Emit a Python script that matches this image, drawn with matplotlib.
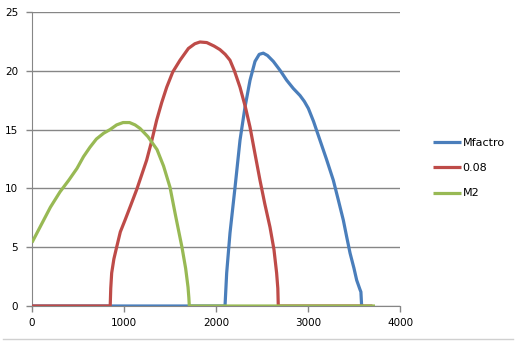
import matplotlib
matplotlib.use("Agg")
import matplotlib.pyplot as plt
from matplotlib.lines import Line2D

# series
mf_x = [0, 2098, 2116, 2152, 2207, 2261, 2315, 2370, 2424, 2470, 2514, 2560, 2623, 2700,
        2768, 2840, 2913, 2960, 3004, 3060, 3130, 3200, 3275, 3330, 3384, 3420, 3457,
        3500, 3529, 3565, 3575, 3583, 3600]
mf_y = [0, 0, 2.8, 6.2, 10.1, 14.1, 16.9, 19.2, 20.8, 21.4, 21.5, 21.3, 20.8, 20.0,
        19.2, 18.5, 17.9, 17.4, 16.8, 15.7, 14.1, 12.5, 10.7, 9.0, 7.3, 5.9, 4.5,
        3.2, 2.2, 1.4, 1.2, 0, 0]

r_x = [0, 850, 856, 866, 890, 920, 960, 1011, 1070, 1138, 1190, 1246, 1300, 1355, 1410,
       1464, 1530, 1609, 1700, 1770, 1826, 1900, 1980, 2043, 2100, 2152, 2200, 2261,
       2320, 2370, 2420, 2478, 2530, 2587, 2630, 2659, 2672, 2677, 3700]
r_y = [0, 0, 1.5, 2.8, 4.0, 5.0, 6.3, 7.3, 8.5, 9.9, 11.1, 12.4, 14.0, 15.8, 17.3,
       18.6, 19.9, 20.9, 21.9, 22.3, 22.45, 22.4, 22.1, 21.8, 21.4, 20.9, 20.0, 18.6,
       16.9, 15.2, 13.1, 10.7, 8.7, 6.7, 4.8, 2.8, 1.5, 0, 0]

m2_x = [0, 100, 200, 304, 400, 489, 560, 630, 700, 780, 848, 920, 990, 1060, 1120,
        1174, 1260, 1359, 1430, 1500, 1560, 1630, 1670, 1696, 1705, 1710, 3728]
m2_y = [5.4, 6.9, 8.4, 9.7, 10.7, 11.7, 12.7, 13.5, 14.2, 14.7, 15.0, 15.4, 15.6, 15.6, 15.4,
        15.1, 14.4, 13.3, 11.9, 10.1, 7.7, 5.0, 3.2, 1.6, 0.7, 0, 0]

labels = ["Mfactro", "0.08", "M2"]
colors = ["#4A7EBB", "#BE4B48", "#98B954"]

fig = plt.figure(figsize=(5.16, 3.42), dpi=100)
ax = fig.add_axes([32 / 516, 1 - 306 / 342, 368 / 516, 294 / 342])

for (xs, ys), lab, col in zip([(mf_x, mf_y), (r_x, r_y), (m2_x, m2_y)], labels, colors):
    ax.plot(xs, ys, color=col, lw=2.3, label=lab, solid_capstyle="butt", zorder=3)

ax.set_xlim(0, 4000)
ax.set_ylim(0, 25)
ax.set_xticks(range(0, 4001, 1000))
ax.set_yticks(range(0, 26, 5))
ax.yaxis.grid(True, color="#868686", lw=1)
ax.set_axisbelow(True)
for s in ["top", "right"]:
    ax.spines[s].set_visible(False)
for s in ["left", "bottom"]:
    ax.spines[s].set_color("#868686")
ax.tick_params(colors="#868686", labelcolor="black", labelsize=7.5, length=4, width=1)
ax.tick_params(axis="y", pad=6)
ax.tick_params(axis="x", pad=5)

ax.legend(loc="upper left", bbox_to_anchor=(433 / 516, 1 - 138 / 342), bbox_transform=fig.transFigure,
          frameon=False, fontsize=8, handlelength=2.5, handletextpad=0.15, labelspacing=1.37,
          borderaxespad=0, borderpad=0)

# bottom edge of the chart area border
fig.add_artist(Line2D([0.006, 0.994], [0.008, 0.008], transform=fig.transFigure,
                      color="#d0d0d0", lw=1))

fig.savefig("out.png", dpi=100)
